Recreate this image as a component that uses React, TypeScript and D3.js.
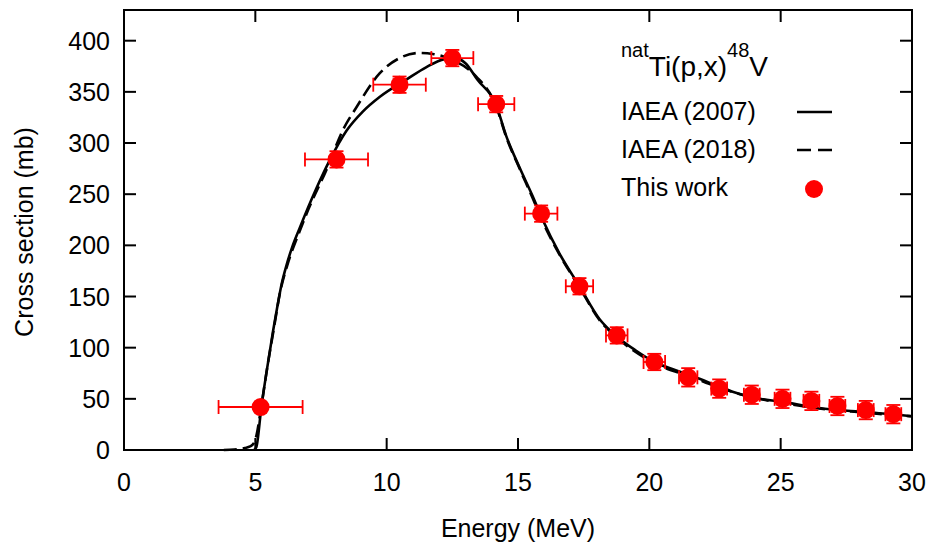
import React from "react";
import * as d3 from "d3";

const width = 936;
const height = 548;
const margin = { top: 10, right: 24, bottom: 98, left: 124 };

// IAEA (2007) recommended curve
const iaea2007E = [4.95, 5.04, 5.23, 5.45, 5.68, 5.85, 6.0, 6.18, 6.4, 6.69, 7.33, 7.83, 8.47, 9.1, 9.73, 10.75, 11.5, 12.2, 12.6, 13.0, 13.45, 14.17, 14.55, 15.06, 15.56, 15.94, 16.58, 17.34, 18.1, 18.76, 19.5, 20.19, 21.0, 21.65, 22.66, 23.17, 24.0, 25.07, 26.46, 28.24, 29.63, 30];
const iaea2007S = [0, 3, 42, 80, 117, 142, 162, 180, 198, 217, 256, 283, 312, 331, 345, 362, 374, 382, 383, 378, 362, 337, 307, 276, 248, 225, 192, 160, 128, 111, 97, 86, 78, 72, 62, 57, 51, 47, 41, 37, 34, 33];

// IAEA (2018) recommended curve
const iaea2018E = [3.8, 4.2, 4.6, 4.8, 4.95, 5.05, 5.2, 5.45, 5.7, 5.95, 6.21, 6.69, 7.0, 7.71, 8.34, 8.85, 9.73, 10.49, 11.25, 11.76, 12.52, 13.41, 14.17, 14.55, 15.06, 15.56, 15.94, 16.58, 17.34, 18.1, 18.76, 20.19, 21.65, 22.66, 24.0, 25.07, 26.46, 28.24, 29.63, 30];
const iaea2018S = [0, 0.5, 2, 3.5, 7, 15, 38, 80, 118, 155, 180, 214, 234, 274, 313, 335, 368, 383, 388, 387, 381, 365, 336, 306, 275, 246, 223, 191, 159, 127, 110, 85, 71, 61, 51, 46, 40.5, 36.5, 33.5, 33];

// This work
const expE = [5.2, 8.09, 10.49, 12.5, 14.17, 15.88, 17.34, 18.76, 20.19, 21.48, 22.66, 23.9, 25.07, 26.17, 27.16, 28.24, 29.29];
const expS = [42, 284, 357, 383, 338, 231, 160, 112, 86, 71, 60, 54, 50, 48, 43, 39, 35];
const expDE = [1.6, 1.2, 1.0, 0.8, 0.69, 0.62, 0.52, 0.41, 0.41, 0.35, 0.3, 0.3, 0.3, 0.3, 0.3, 0.3, 0.3];
const expDS = [4, 8, 8, 8, 8, 8, 8, 8, 8, 9, 9, 9, 9, 9, 9, 9, 9];

const xTicks = [0, 5, 10, 15, 20, 25, 30];
const yTicks = [0, 50, 100, 150, 200, 250, 300, 350, 400];

const font = "Tahoma, 'Liberation Sans', Arial, sans-serif";
const red = "#ff0000";

export default function App() {
  const x = d3.scaleLinear().domain([0, 30]).range([margin.left, width - margin.right]);
  const y = d3.scaleLinear().domain([0, 430]).range([height - margin.bottom, margin.top]);

  const line = d3
    .line<[number, number]>()
    .x(d => x(d[0]))
    .y(d => y(d[1]))
    .curve(d3.curveMonotoneX);

  const solid = line(iaea2007E.map((e, i) => [e, iaea2007S[i]]));
  const dashed = line(iaea2018E.map((e, i) => [e, iaea2018S[i]]));

  const x0 = margin.left;
  const x1 = width - margin.right;
  const y0 = height - margin.bottom;
  const y1 = margin.top;
  const tick = 12;
  const cap = 7;

  return (
    <svg
      width={width}
      height={height}
      style={{ position: "absolute", left: 0, top: 0, background: "#fff" }}
      fontFamily={font}
    >
      <rect x={0} y={0} width={width} height={height} fill="#fff" />

      {/* curves */}
      <path d={solid || ""} fill="none" stroke="#000" strokeWidth={2.6} />
      <path d={dashed || ""} fill="none" stroke="#000" strokeWidth={2.6} strokeDasharray="13,6" />

      {/* data points with error bars */}
      {expE.map((e, i) => {
        const cx = x(e);
        const cy = y(expS[i]);
        const xl = x(e - expDE[i]);
        const xr = x(e + expDE[i]);
        const yt = y(expS[i] + expDS[i]);
        const yb = y(expS[i] - expDS[i]);
        return (
          <g key={i} stroke={red} strokeWidth={1.8}>
            <line x1={xl} x2={xr} y1={cy} y2={cy} />
            <line x1={xl} x2={xl} y1={cy - cap} y2={cy + cap} />
            <line x1={xr} x2={xr} y1={cy - cap} y2={cy + cap} />
            <line x1={cx} x2={cx} y1={yt} y2={yb} />
            <line x1={cx - cap} x2={cx + cap} y1={yt} y2={yt} />
            <line x1={cx - cap} x2={cx + cap} y1={yb} y2={yb} />
            <circle cx={cx} cy={cy} r={9} fill={red} stroke="none" />
          </g>
        );
      })}

      {/* frame and ticks */}
      <rect x={x0} y={y1} width={x1 - x0} height={y0 - y1} fill="none" stroke="#000" strokeWidth={2} />
      {xTicks.map(t => (
        <g key={"x" + t}>
          <line x1={x(t)} x2={x(t)} y1={y0} y2={y0 - tick} stroke="#000" strokeWidth={2} />
          <line x1={x(t)} x2={x(t)} y1={y1} y2={y1 + tick} stroke="#000" strokeWidth={2} />
          <text x={x(t)} y={491} fontSize={25} textAnchor="middle" fill="#000">
            {t}
          </text>
        </g>
      ))}
      {yTicks.map(t => (
        <g key={"y" + t}>
          <line x1={x0} x2={x0 + tick} y1={y(t)} y2={y(t)} stroke="#000" strokeWidth={2} />
          <line x1={x1} x2={x1 - tick} y1={y(t)} y2={y(t)} stroke="#000" strokeWidth={2} />
          <text x={110} y={y(t) + 9} fontSize={25} textAnchor="end" fill="#000">
            {t}
          </text>
        </g>
      ))}

      {/* axis titles */}
      <text x={(x0 + x1) / 2} y={537} fontSize={25} textAnchor="middle" fill="#000">
        Energy (MeV)
      </text>
      <text transform="translate(33,232) rotate(-90)" fontSize={25} textAnchor="middle" fill="#000">
        Cross section (mb)
      </text>

      {/* legend */}
      <text x={621} y={76} fill="#000">
        <tspan fontSize={20} dy={-19}>nat</tspan>
        <tspan fontSize={28} dy={19}>Ti(p,x)</tspan>
        <tspan fontSize={20} dy={-19}>48</tspan>
        <tspan fontSize={28} dy={19}>V</tspan>
      </text>
      <text x={621} y={120} fontSize={25} fill="#000">IAEA (2007)</text>
      <line x1={797} x2={832} y1={112} y2={112} stroke="#000" strokeWidth={2.6} />
      <text x={621} y={158} fontSize={25} fill="#000">IAEA (2018)</text>
      <line x1={797} x2={832} y1={150} y2={150} stroke="#000" strokeWidth={2.6} strokeDasharray="14,7" />
      <text x={621} y={196} fontSize={25} fill="#000">This work</text>
      <circle cx={814} cy={189} r={9} fill={red} />
    </svg>
  );
}
